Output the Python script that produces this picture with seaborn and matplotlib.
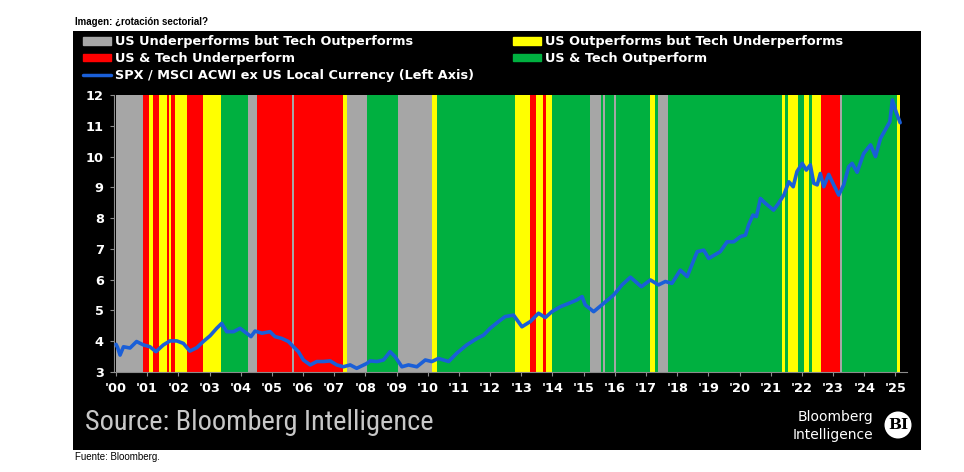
import matplotlib
matplotlib.use('Agg')
import matplotlib.pyplot as plt
import seaborn as sns
from matplotlib import font_manager
from matplotlib.patches import Rectangle, Circle, Patch
from matplotlib.lines import Line2D

# Regime bands: start of each band and its state, last edge closes the final band
band_edges = [2000.00, 2000.88, 2001.07, 2001.20, 2001.39, 2001.63, 2001.69, 2001.75, 2001.90,
              2002.29, 2002.80, 2003.37, 2004.23, 2004.53, 2005.64, 2005.71, 2007.29, 2007.40,
              2008.04, 2009.06, 2010.13, 2010.29, 2012.80, 2013.29, 2013.46, 2013.71, 2013.80,
              2013.98, 2015.21, 2015.55, 2015.62, 2015.69, 2015.96, 2016.03, 2017.14, 2017.30,
              2017.38, 2017.70, 2021.36, 2021.47, 2021.54, 2021.88, 2022.06, 2022.22, 2022.31,
              2022.61, 2023.21, 2023.29, 2025.05, 2025.15]
band_states = ['gray', 'red', 'yellow', 'red', 'yellow', 'red', 'yellow', 'red', 'yellow',
               'red', 'yellow', 'green', 'gray', 'red', 'gray', 'red', 'yellow', 'gray',
               'green', 'gray', 'yellow', 'green', 'yellow', 'red', 'yellow', 'red', 'yellow',
               'green', 'gray', 'green', 'gray', 'green', 'gray', 'green', 'yellow', 'green',
               'gray', 'green', 'yellow', 'green', 'yellow', 'green', 'yellow', 'green', 'yellow',
               'red', 'gray', 'green', 'yellow']

# SPX / MSCI ACWI ex US ratio
line_years = [2000.00, 2000.05, 2000.13, 2000.24, 2000.45, 2000.66, 2000.88, 2001.09, 2001.28,
              2001.52, 2001.73, 2001.95, 2002.16, 2002.37, 2002.59, 2002.80, 2003.02, 2003.23,
              2003.39, 2003.55, 2003.77, 2003.98, 2004.19, 2004.33, 2004.46, 2004.68, 2004.94,
              2005.10, 2005.32, 2005.53, 2005.69, 2005.85, 2006.01, 2006.23, 2006.44, 2006.65,
              2006.87, 2007.08, 2007.29, 2007.51, 2007.72, 2008.05, 2008.15, 2008.37, 2008.58,
              2008.79, 2008.95, 2009.17, 2009.38, 2009.65, 2009.92, 2010.13, 2010.34, 2010.67,
              2010.93, 2011.25, 2011.58, 2011.79, 2012.00, 2012.27, 2012.48, 2012.75, 2013.02,
              2013.29, 2013.55, 2013.77, 2013.98, 2014.25, 2014.52, 2014.78, 2014.95, 2015.05,
              2015.32, 2015.64, 2015.96, 2016.23, 2016.50, 2016.85, 2017.14, 2017.40, 2017.62,
              2017.83, 2018.10, 2018.32, 2018.64, 2018.85, 2019.01, 2019.38, 2019.60, 2019.81,
              2020.03, 2020.19, 2020.29, 2020.43, 2020.54, 2020.67, 2020.83, 2021.09, 2021.25,
              2021.42, 2021.58, 2021.72, 2021.84, 2022.01, 2022.14, 2022.27, 2022.38, 2022.49,
              2022.59, 2022.70, 2022.86, 2023.02, 2023.18, 2023.34, 2023.50, 2023.61, 2023.77,
              2023.98, 2024.20, 2024.36, 2024.52, 2024.73, 2024.82, 2024.90, 2025.02, 2025.15]
line_values = [3.90, 3.80, 3.55, 3.82, 3.78, 3.99, 3.88, 3.82, 3.66,
               3.88, 4.01, 4.01, 3.93, 3.68, 3.79, 3.99, 4.18, 4.42,
               4.58, 4.31, 4.31, 4.42, 4.26, 4.15, 4.33, 4.26, 4.31,
               4.15, 4.09, 3.99, 3.82, 3.66, 3.39, 3.23, 3.34, 3.34,
               3.36, 3.23, 3.17, 3.23, 3.12, 3.28, 3.36, 3.34, 3.39,
               3.66, 3.50, 3.17, 3.23, 3.17, 3.39, 3.34, 3.44, 3.34,
               3.61, 3.88, 4.09, 4.20, 4.42, 4.64, 4.80, 4.85, 4.47,
               4.64, 4.91, 4.77, 4.96, 5.12, 5.23, 5.34, 5.45, 5.18,
               4.96, 5.23, 5.50, 5.83, 6.08, 5.77, 5.99, 5.83, 5.94,
               5.88, 6.31, 6.10, 6.91, 6.96, 6.69, 6.91, 7.23, 7.23,
               7.40, 7.45, 7.78, 8.10, 8.05, 8.64, 8.48, 8.26, 8.48,
               8.75, 9.18, 9.02, 9.51, 9.78, 9.56, 9.73, 9.13, 9.08,
               9.45, 9.02, 9.42, 9.08, 8.75, 9.08, 9.67, 9.78, 9.49,
               10.10, 10.38, 10.00, 10.59, 10.97, 11.13, 11.84, 11.45, 11.10]

year_ticks = list(range(2000, 2026))
year_labels = ["'%02d" % (y - 2000) for y in year_ticks]
y_ticks = [3, 4, 5, 6, 7, 8, 9, 10, 11, 12]

legend_labels = {
    'gray': 'US Underperforms but Tech Outperforms',
    'red': 'US & Tech Underperform',
    'yellow': 'US Outperforms but Tech Underperforms',
    'green': 'US & Tech Outperform',
}
line_label = 'SPX / MSCI ACWI ex US Local Currency (Left Axis)'

band_colors = {'gray': '#a6a6a6', 'red': '#ff0000', 'yellow': '#ffff00', 'green': '#00b040'}
line_color = '#1a5fd8'

sns.set_style('dark')
plt.rcParams['font.family'] = ['DejaVu Sans']

# pick a narrow face for the big source line if one is installed
names = {f.name for f in font_manager.fontManager.ttflist}
narrow = None
for cand in ['Liberation Sans Narrow', 'DejaVu Sans Condensed', 'Roboto Condensed']:
    if cand in names:
        narrow = cand
        break
if narrow is None:
    narrow_kw = dict(family='DejaVu Sans', fontsize=16)
else:
    narrow_kw = dict(family=narrow, fontsize=20.4)
logo_kw = dict(family='DejaVu Sans', fontsize=10)

W, H = 964, 472
fig = plt.figure(figsize=(W / 100, H / 100), dpi=100)
fig.patch.set_facecolor('white')

# black panel behind the chart
fig.add_artist(Rectangle((73 / W, 1 - 450 / H), (921 - 73) / W, (450 - 31) / H,
                         transform=fig.transFigure, facecolor='black', edgecolor='none', zorder=0))

ax = fig.add_axes([113.5 / W, 1 - 372 / H, (907 - 113.5) / W, (372 - 95) / H])
ax.set_facecolor('black')

for i, state in enumerate(band_states):
    ax.axvspan(band_edges[i], band_edges[i + 1], color=band_colors[state], lw=0, zorder=1)

sns.lineplot(x=line_years, y=line_values, ax=ax, color=line_color, linewidth=2.6, zorder=3)

ax.set_xlim(1999.92, 2025.37)
ax.set_ylim(3, 12)
ax.set_xticks(year_ticks)
ax.set_xticklabels(year_labels)
ax.set_yticks(y_ticks)
ax.grid(False)
ax.tick_params(axis='both', colors='#8c8c8c', length=3, width=0.8, labelcolor='white',
               labelsize=9.3, pad=4, bottom=True, left=True)
for lab in ax.get_xticklabels() + ax.get_yticklabels():
    lab.set_fontweight('bold')
for side in ['top', 'right']:
    ax.spines[side].set_visible(False)
for side in ['left', 'bottom']:
    ax.spines[side].set_color('#8c8c8c')
    ax.spines[side].set_linewidth(0.8)
ax.set_xlabel('')
ax.set_ylabel('')

# two legend blocks so each column sits where it does in the original
leg_kw = dict(loc='upper left', frameon=False, labelcolor='white',
              prop={'weight': 'bold', 'size': 9.3}, handlelength=2.15, handleheight=0.5,
              handletextpad=0.3, labelspacing=0.28, borderpad=0, borderaxespad=0)
left_handles = [Patch(color=band_colors['gray']), Patch(color=band_colors['red']),
                Line2D([], [], color=line_color, lw=2.5)]
left_labels = [legend_labels['gray'], legend_labels['red'], line_label]
right_handles = [Patch(color=band_colors['yellow']), Patch(color=band_colors['green'])]
right_labels = [legend_labels['yellow'], legend_labels['green']]
fig.legend(left_handles, left_labels, bbox_to_anchor=(83 / W, 1 - 35.5 / H), **leg_kw)
fig.legend(right_handles, right_labels, bbox_to_anchor=(513 / W, 1 - 35.5 / H), **leg_kw)

fig.text(85 / W, 1 - 423 / H, 'Source: Bloomberg Intelligence', color='#c8c8c8',
         va='center', ha='left', **narrow_kw)
fig.text(873 / W, 1 - 417 / H, 'Bloomberg', color='white', va='center', ha='right', **logo_kw)
fig.text(873 / W, 1 - 435 / H, 'Intelligence', color='white', va='center', ha='right', **logo_kw)
fig.add_artist(Circle((898 / 100, (H - 425) / 100), 0.135, transform=fig.dpi_scale_trans,
                      facecolor='white', edgecolor='none'))
fig.text(898 / W, 1 - 425 / H, 'BI', color='black', va='center', ha='center',
         fontsize=11, fontweight='bold', family='DejaVu Serif')

fig.text(75 / W, 1 - 22 / H, 'Imagen: ¿rotación sectorial?', color='black', va='center',
         ha='left', fontsize=7, fontweight='bold', family='Liberation Sans')
fig.text(75 / W, 1 - 457 / H, 'Fuente: Bloomberg.', color='black', va='center', ha='left',
         fontsize=7, family='Liberation Sans')

fig.savefig('out.png', dpi=100, facecolor=fig.get_facecolor())
